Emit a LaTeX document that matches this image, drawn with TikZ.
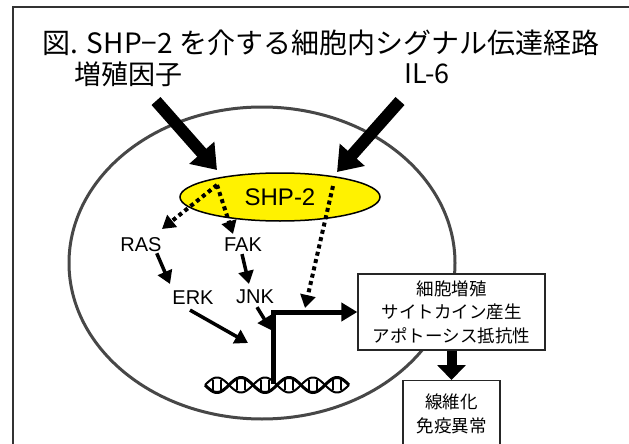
\documentclass[tikz,border=0pt]{standalone}
\usepackage{fontspec}
\setmainfont{Liberation Sans}
\newfontfamily\jp{Noto Sans CJK JP}
\usetikzlibrary{arrows.meta,shapes.geometric}
\tikzset{
  frameline/.style={draw=black!80, line width=2pt},
  cellline/.style={draw=black!72, line width=3pt},
  bigarrow/.style={line width=12pt, -{Triangle[width=32pt,length=23pt]}},
  midarrow/.style={line width=3.5pt, -{Triangle[width=15pt,length=13pt]}},
  dotarrow/.style={line width=4pt, dash pattern=on 4pt off 3.5pt, -{Triangle[width=15pt,length=13pt]}},
  tsarrow/.style={line width=5pt, -{Triangle[width=18pt,length=16pt]}},
  boxarrow/.style={line width=10pt, -{Triangle[width=28pt,length=15pt]}},
  gene/.style={font=\fontsize{20}{20}\selectfont, inner sep=1pt},
  jbig/.style={font=\jp\fontsize{27}{27}\selectfont, inner sep=1pt},
  resbox/.style={draw=black!85, line width=1.3pt, fill=white, align=center, font=\jp\fontsize{17.5}{23.5}\selectfont},
}
\begin{document}
\begin{tikzpicture}[x=1pt,y=-1pt]
\useasboundingbox (0,0) rectangle (629,444);
\clip (0,0) rectangle (629,444);
\fill[white] (0,0) rectangle (629,444);
% frame
\draw[frameline] (13,470) -- (13,7) -- (660,7);
% title
\node[font=\jp\fontsize{28}{28}\selectfont, inner sep=0pt] (title) at (321,43) {図. SHP−2 を介する細胞内シグナル伝達経路};
% inputs
\node[jbig] (gf) at (128,74) {増殖因子};
\node[jbig] (il6) at (427,74) {IL-6};
% cell
\node[ellipse, cellline, minimum width=386pt, minimum height=312pt, inner sep=0pt] (cell) at (262,263) {};
% SHP-2
\node[ellipse, draw=black, line width=1.5pt, fill=yellow, minimum width=200pt, minimum height=48pt, inner sep=0pt,
      font=\fontsize{24}{24}\selectfont] (shp) at (280,197) {SHP-2};
% big arrows
\coordinate (gfs) at (156,101);
\coordinate (gft) at (217,170);
\coordinate (ils) at (400,101);
\coordinate (ilt) at (337,172);
\draw[bigarrow] (gfs) -- (gft);
\draw[bigarrow] (ils) -- (ilt);
% gene labels
\node[gene] (ras) at (141,245) {RAS};
\node[gene] (fak) at (243,245) {FAK};
\node[gene] (erk) at (193,298) {ERK};
\node[gene] (jnk) at (255,297) {JNK};
% dotted arrows
\coordinate (apex) at (217,185);
\coordinate (rastip) at (162,229);
\coordinate (faktip) at (233,234);
\coordinate (ils2) at (333,186);
\coordinate (dtip) at (305,308);
\draw[dotarrow] (apex) -- (rastip);
\draw[dotarrow] (apex) -- (faktip);
\draw[dotarrow] (ils2) -- (dtip);
% solid arrows
\coordinate (erktip) at (248,343);
\coordinate (jnktip) at (271,330);
\draw[midarrow] (ras.south east) ++(-6,0) coordinate (rasb) (rasb) -- (170,284) coordinate (erkin);
\draw[midarrow] (fak.south) ++(-1,1) coordinate (fakb) (fakb) -- (249,284) coordinate (jnkin);
\draw[midarrow] (erk.south) ++(-3,4) coordinate (erkb) (erkb) -- (erktip);
\draw[midarrow] (jnk.south) ++(2,2) coordinate (jnkb) (jnkb) -- (jnktip);
% outcome box
\node[resbox, minimum width=187pt, minimum height=76pt, inner sep=2pt] (res) at (451.5,312)
  {細胞増殖\\サイトカイン産生\\アポトーシス抵抗性};
\node[resbox, minimum width=97pt, minimum height=66pt, anchor=north, inner sep=2pt] (fib) at (451.5,380)
  {線維化\\免疫異常};
\draw[boxarrow] (res.south) -- (fib.north);
% DNA
\coordinate (dnastart) at (273,384);
\draw[black, line width=3pt] plot[domain=205:349, samples=140] (\x, {385 + 7.5*sin((\x-205)*7.5)});
\draw[black, line width=2pt] plot[domain=205:349, samples=140] (\x, {385 - 7.5*sin((\x-205)*7.5)});
\foreach \k in {0,...,5} {
  \draw[black, line width=1.3pt] ({205+12+24*\k-4},380) -- ++(0,10);
  \draw[black, line width=1.3pt] ({205+12+24*\k+4},380) -- ++(0,10);
}
% transcription arrow
\draw[tsarrow] (dnastart) |- (res.west);
\end{tikzpicture}
\end{document}
